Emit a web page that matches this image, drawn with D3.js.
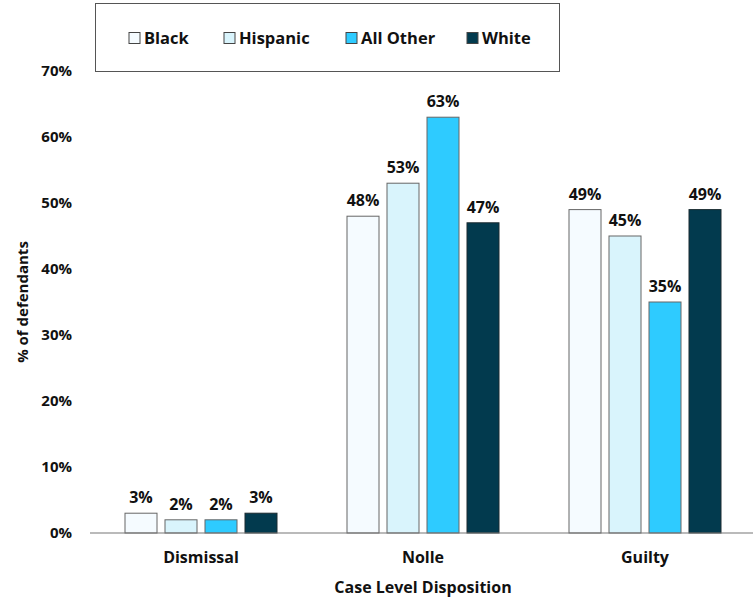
<!DOCTYPE html>
<html><head><meta charset="utf-8">
<script src="https://cdn.jsdelivr.net/npm/d3@7"></script>
<style>body{margin:0;background:#fff}svg{display:block}text{font-family:"Open Sans","Liberation Sans",sans-serif;font-weight:bold;fill:#111}</style>
</head><body><svg id="c" width="753" height="600"></svg>
<script>
const categories = ["Dismissal", "Nolle", "Guilty"];
const seriesNames = ["Black", "Hispanic", "All Other", "White"];
const black = [3, 48, 49];
const hispanic = [2, 53, 45];
const allOther = [2, 63, 35];
const white = [3, 47, 49];
const yTicks = [0, 10, 20, 30, 40, 50, 60, 70];
const colors = ["#F5FBFF", "#D9F4FC", "#2ECBFF", "#023A4E"];

const series = [black, hispanic, allOther, white];
const svg = d3.select("#c");
const m = {l: 90, r: -3, t: 71, b: 67};
const W = 753, H = 600;
const x0 = d3.scaleBand().domain(categories).range([m.l, W - m.r]).padding(0);
const groupW = 160;
const x1 = d3.scaleBand().domain(seriesNames).range([0, groupW]).paddingInner(0.2).paddingOuter(0.1);
const y = d3.scaleLinear().domain([0, 70]).range([H - m.b, m.t]);

// y tick labels
svg.append("g").selectAll("text").data(yTicks).join("text")
  .attr("x", 72).attr("y", d => y(d)).attr("dy", "0.35em")
  .attr("text-anchor", "end").style("font-size", "15px")
  .text(d => d + "%");

// bars
const g = svg.append("g");
categories.forEach((c, ci) => {
  const gx = x0(c) + (x0.bandwidth() - groupW) / 2;
  seriesNames.forEach((s, si) => {
    const v = series[si][ci];
    const bx = gx + x1(s);
    g.append("rect").attr("x", bx).attr("y", y(v))
      .attr("width", x1.bandwidth()).attr("height", y(0) - y(v))
      .attr("fill", colors[si]).attr("stroke", si === 3 ? "#1a2a30" : "#666").attr("stroke-width", 1);
    g.append("text").attr("x", bx + x1.bandwidth() / 2).attr("y", y(v) - 10)
      .attr("text-anchor", "middle").style("font-size", "16px").text(v + "%");
  });
  svg.append("text").attr("x", x0(c) + x0.bandwidth() / 2).attr("y", 563)
    .attr("text-anchor", "middle").style("font-size", "16px").text(c);
});

// baseline
svg.append("line").attr("x1", m.l).attr("x2", W).attr("y1", y(0)).attr("y2", y(0))
  .attr("stroke", "#777").attr("stroke-width", 1.2);

// axis titles
svg.append("text").attr("x", 423).attr("y", 593).attr("text-anchor", "middle")
  .style("font-size", "16px").text("Case Level Disposition");
svg.append("text").attr("transform", "translate(28,302) rotate(-90)").attr("text-anchor", "middle")
  .style("font-size", "15px").text("% of defendants");

// legend
svg.append("rect").attr("x", 95.5).attr("y", 3.5).attr("width", 464).attr("height", 68)
  .attr("fill", "#fff").attr("stroke", "#555").attr("stroke-width", 1);
const legX = [129, 224, 346, 467];
seriesNames.forEach((s, i) => {
  svg.append("rect").attr("x", legX[i]).attr("y", 32.5).attr("width", 11).attr("height", 11)
    .attr("fill", colors[i]).attr("stroke", "#444").attr("stroke-width", 1);
  svg.append("text").attr("x", legX[i] + 15).attr("y", 38).attr("dy", "0.35em")
    .style("font-size", "16.5px").text(s);
});
</script></body></html>
